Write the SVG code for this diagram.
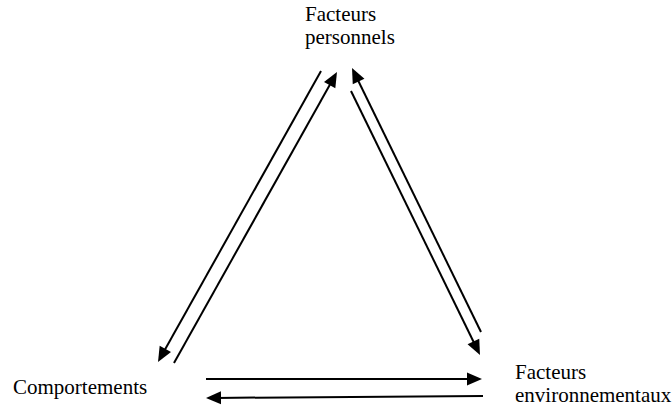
<svg xmlns="http://www.w3.org/2000/svg" width="672" height="407" viewBox="0 0 672 407">
<style>
  .lbl { font-family: "Liberation Serif", "Times New Roman", serif; font-size: 21px; fill: #000; }
  .conn { stroke: #000; stroke-width: 2; fill: none; marker-end: url(#ah); }
</style>
<defs>
  <marker id="ah" markerUnits="userSpaceOnUse" markerWidth="15" markerHeight="13" refX="5" refY="6.5" orient="auto" overflow="visible">
    <path d="M0,0 L15,6.5 L0,13 z" fill="#000"/>
  </marker>
</defs>
<rect width="672" height="407" fill="#fff"/>
<g id="node-personnels">
  <text class="lbl" x="305" y="21">Facteurs</text>
  <text class="lbl" x="305" y="44">personnels</text>
</g>
<g id="node-comportements">
  <text class="lbl" x="13" y="394">Comportements</text>
</g>
<g id="node-environnementaux">
  <text class="lbl" x="515" y="379">Facteurs</text>
  <text class="lbl" x="515" y="402">environnementaux</text>
</g>
<g id="connectors">
  <line class="conn" x1="321" y1="71" x2="162.9" y2="353.3"/>
  <line class="conn" x1="174" y1="363" x2="332.1" y2="80.7"/>
  <line class="conn" x1="481" y1="332" x2="356.4" y2="77"/>
  <line class="conn" x1="351" y1="91" x2="475.6" y2="346"/>
  <line class="conn" x1="206" y1="379" x2="472" y2="379"/>
  <line class="conn" x1="483" y1="396" x2="216" y2="397.9"/>
</g>
</svg>
